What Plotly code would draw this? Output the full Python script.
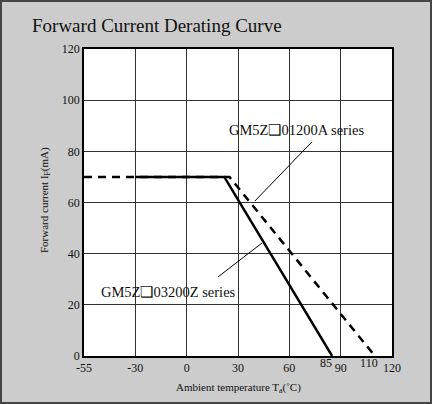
import numpy as np
import plotly.graph_objects as go

# Axis scale (non-linear in the original: equal spacing between main ticks)
main_ticks = [-55, -30, 0, 30, 60, 90, 120]
extra_ticks = [85, 110]
y_ticks = [0, 20, 40, 60, 80, 100, 120]

# Series
solid_T = [-30, 22, 85]
solid_I = [70, 70, 0]
dashed_T = [-55, 25, 110]
dashed_I = [70, 70, 0]

label_a = "GM5Z❑01200A series"
label_z = "GM5Z❑03200Z series"


def pos(t):
    return np.interp(t, main_ticks, np.arange(len(main_ticks)))


FONT = "Liberation Serif, Times New Roman, serif"
L, R, T, B = 84, 40, 49, 48
PW, PH = 432 - L - R, 404 - T - B

fig = go.Figure()
fig.add_trace(go.Scatter(x=pos(dashed_T), y=dashed_I, mode="lines",
                         line=dict(color="black", width=2.5, dash="8px,6px"),
                         showlegend=False, hoverinfo="skip"))
fig.add_trace(go.Scatter(x=pos(solid_T), y=solid_I, mode="lines",
                         line=dict(color="black", width=2.5),
                         showlegend=False, hoverinfo="skip"))
# invisible trace for the second x axis (85 / 110 labels)
fig.add_trace(go.Scatter(x=pos(extra_ticks), y=[0, 0], xaxis="x2", mode="markers",
                         marker=dict(opacity=0, size=1), showlegend=False, hoverinfo="skip"))

xr = [0, len(main_ticks) - 1]
fig.update_layout(
    width=432, height=404,
    margin=dict(l=L, r=R, t=T, b=B, autoexpand=False),
    paper_bgcolor="#cccccc", plot_bgcolor="white",
    font=dict(family=FONT, color="#111", size=12),
    title=dict(text="Forward Current Derating Curve", x=32 / 432, xref="container", xanchor="left",
               y=(404 - 25) / 404, yref="container", yanchor="middle",
               font=dict(size=19, family=FONT, color="#111")),
    xaxis=dict(range=xr, tickvals=list(pos(main_ticks)), ticktext=[str(t) for t in main_ticks],
               showgrid=True, gridcolor="#333", gridwidth=1, zeroline=False, automargin=False,
               showline=True, linecolor="black", linewidth=1.5, mirror=True,
               ticks="", ticklen=0, tickfont=dict(size=12, family=FONT)),
    xaxis2=dict(range=xr, overlaying="x", side="bottom", anchor="y", automargin=False,
                tickvals=list(pos(extra_ticks)), ticktext=[str(t) for t in extra_ticks],
                ticklabelshift=-6, ticklabelstandoff=-2,
                showgrid=False, zeroline=False, showline=False, ticks="",
                tickfont=dict(size=12, family=FONT)),
    yaxis=dict(range=[0, 120], tickvals=y_ticks, showgrid=True, gridcolor="#333", gridwidth=1,
               zeroline=False, showline=True, linecolor="black", linewidth=1.5, mirror=True,
               automargin=False, ticks="", tickfont=dict(size=12, family=FONT)),
)

# axis titles
fig.add_annotation(xref="paper", yref="paper", x=(238 - L) / PW, y=(356 - 388) / PH,
                   xanchor="center", yanchor="middle",
                   text="Ambient temperature T<sub>a</sub>(˚C)", showarrow=False,
                   font=dict(size=11, family=FONT, color="#111"))
fig.add_annotation(xref="paper", yref="paper", x=(45 - L) / PW, y=(356 - 200) / PH,
                   xanchor="center", yanchor="middle",
                   text="Forward current I<sub>F</sub>(mA)", showarrow=False, textangle=-90,
                   font=dict(size=11, family=FONT, color="#111"))

# leader lines
fig.add_shape(type="line", x0=4.44, y0=83.7, x1=3.33, y1=60.6, line=dict(color="black", width=1))
fig.add_shape(type="line", x0=3.47, y0=44.2, x1=2.61, y1=30.9, line=dict(color="black", width=1))

fig.add_annotation(x=4.13, y=88.3, text=label_a, showarrow=False,
                   font=dict(size=14.5, family=FONT, color="#111"))
fig.add_annotation(x=1.64, y=25, text=label_z, showarrow=False,
                   font=dict(size=14.5, family=FONT, color="#111"))

# outer frame
fig.add_shape(type="rect", xref="paper", yref="paper",
              x0=(1 - L) / PW, x1=(431 - L) / PW, y0=(356 - 403) / PH, y1=(356 - 1) / PH,
              line=dict(color="#444", width=2), fillcolor="rgba(0,0,0,0)", layer="above")

fig.write_html("out.html", config={"displayModeBar": False},
               post_script="document.body.style.margin='0';document.body.style.overflow='hidden';")
